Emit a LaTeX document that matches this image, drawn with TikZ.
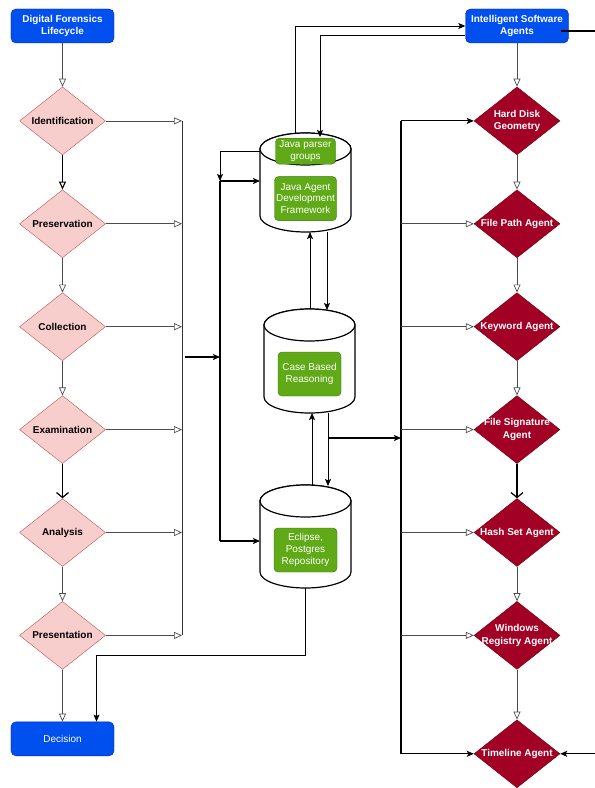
\documentclass[tikz,border=0pt]{standalone}
\usepackage{fontspec}
\setmainfont{Liberation Sans}
\usepackage{tikz}
\usetikzlibrary{shapes.geometric,arrows.meta,positioning}
\definecolor{lifeblue}{HTML}{0050EF}
\definecolor{lifeblueline}{HTML}{001DBC}
\definecolor{phasepink}{HTML}{F8CECC}
\definecolor{phaseline}{HTML}{B85450}
\definecolor{agentred}{HTML}{A20025}
\definecolor{agentline}{HTML}{6F0000}
\definecolor{kbgreen}{HTML}{60A917}
\definecolor{kbline}{HTML}{2D7600}

\begin{document}
\begin{tikzpicture}[x=1bp, y=-1bp,
  txt/.style={font=\fontsize{10}{12.5}\selectfont},
  bold/.style={font=\fontsize{10}{12.5}\selectfont\bfseries},
  hub/.style={rectangle, draw=lifeblueline, fill=lifeblue, text=white,
              rounded corners=5bp, minimum width=103bp, minimum height=34bp,
              align=center, txt},
  phase/.style={diamond, draw=phaseline, fill=phasepink,
                minimum width=86bp, minimum height=68bp, inner sep=0pt,
                label={[bold, align=center, text=black]center:#1}},
  agent/.style={diamond, draw=agentline, fill=agentred,
                minimum width=86bp, minimum height=68bp, inner sep=0pt,
                label={[bold, align=center, text=white]center:#1}},
  store/.style={rectangle, minimum width=91bp, minimum height=#1,
                inner sep=0pt, outer sep=0pt},
  storeline/.style={draw=black, line width=1.2pt, fill=white},
  kb/.style={rectangle, draw=kbline, fill=kbgreen, text=white,
             rounded corners=4bp, align=center, inner sep=1bp,
             font=\fontsize{10}{12}\selectfont},
  link/.style={draw=black!70, line width=0.7pt,
               -{Triangle[open, length=8bp, width=7bp]}},
  heavy/.style={draw=black, line width=1.2pt,
                -{Straight Barb[length=5bp, width=12bp]}},
  feed/.style={draw=black, line width=1.1pt,
               -{Stealth[length=7bp, width=6bp, inset=1.5bp]}},
  bus/.style={draw=black, line width=1.2pt}
]
  \useasboundingbox (0,0) rectangle (595,788);

  % lifecycle column
  \node[hub, bold] (dfl) at (62.5,26) {Digital Forensics\\Lifecycle};
  \node[phase=Identification, below=43.5bp of dfl] (idf) {};
  \node[phase=Preservation, below=34.5bp of idf] (prs) {};
  \node[phase=Collection, below=34.5bp of prs] (col) {};
  \node[phase=Examination, below=34.5bp of col] (exa) {};
  \node[phase=Analysis, below=34.5bp of exa] (ana) {};
  \node[phase=Presentation, below=34.5bp of ana] (pre) {};
  \node[hub, below=52bp of pre] (dec) {Decision};

  % agent column
  \node[hub, bold] (isa) at (517,26) {Intelligent Software\\Agents};
  \node[agent={Hard Disk\\Geometry}, below=43.5bp of isa] (hdg) {};
  \node[agent=File Path Agent, below=34.5bp of hdg] (fpa) {};
  \node[agent=Keyword Agent, below=34.5bp of fpa] (kwa) {};
  \node[agent={File Signature\\Agent}, below=34.5bp of kwa] (fsa) {};
  \node[agent=Hash Set Agent, below=34.5bp of fsa] (hsa) {};
  \node[agent={Windows\\Registry Agent}, below=34.5bp of hsa] (wra) {};
  \node[agent=Timeline Agent, below=50bp of wra] (tla) {};

  % stores
  \node[store=99bp] (jade) at (305.5,182.5) {};
  \node[store=104bp] (cbr) at (309.5,361) {};
  \node[store=103bp] (ecl) at (305.5,536.5) {};
  \foreach \s in {jade,cbr,ecl} {
    \draw[storeline] ([yshift=-16bp]\s.north west) -- ([yshift=16bp]\s.south west)
      arc[start angle=180, end angle=0, x radius=45.5, y radius=16]
      -- ([yshift=-16bp]\s.north east)
      arc[start angle=0, end angle=-180, x radius=45.5, y radius=16] -- cycle;
    \draw[storeline] ([yshift=-16bp]\s.north) ellipse[x radius=45.5, y radius=16];
  }
  \node[kb, minimum width=60bp, minimum height=26bp, below=5bp of jade.north] (jpg) {Java parser\\groups};
  \node[kb, minimum width=62bp, minimum height=44bp, below=12bp of jpg] (jadf) {Java Agent\\Development\\Framework};
  \node[kb, minimum width=63bp, minimum height=44bp] (cbrkb) at ([yshift=-13bp]cbr.center) {Case Based\\Reasoning};
  \node[kb, minimum width=63bp, minimum height=44bp] (eclkb) at ([yshift=-13.5bp]ecl.center) {Eclipse,\\Postgres\\Repository};

  \coordinate (lbus) at (182,357);
  \coordinate (mbus) at (220,357);
  \coordinate (mtop) at (220,181);
  \coordinate (mbot) at (220,541);
  \coordinate (cbrout) at (328,438);
  \coordinate (rbus) at (401,438);
  \coordinate (redge) at (595,0);

  % lifecycle flow
  \draw[link] (dfl) -- (idf);
  \draw[link, draw=black, line width=1.1pt] (idf) -- (prs);
  \draw[link] (prs) -- (col);
  \draw[link] (col) -- (exa);
  \draw[heavy] (exa) -- (ana);
  \draw[link] (ana) -- (pre);
  \draw[link] (pre) -- (dec);
  \foreach \p in {idf,prs,col,exa,ana,pre}
    \draw[link] (\p.east) -- (\p.east -| lbus);
  \draw[draw=black!80, line width=0.8pt] (lbus |- idf.east) -- (lbus |- pre.east);
  \draw[feed] ([xshift=3bp]lbus) -- (mbus);

  % into the stores
  \draw[bus] (mtop) -- (mbot);
  \draw[feed] (mtop) -- (mtop -| jade.west);
  \draw[feed] (mbot) -- (mbot -| ecl.west);
  \draw[feed, line width=0.7pt] (jpg.west -| jade.west) -| (mtop);
  \draw[feed, line width=0.7pt] ([xshift=-10.5bp]jade.north) |- (isa.west);
  \draw[feed, line width=0.7pt] ([yshift=-9bp]isa.west) -| ([xshift=14.5bp, yshift=-4bp]jade.north);
  \draw[feed, line width=0.7pt] ([xshift=0.5bp]cbr.north) -- ([xshift=0.5bp]cbr.north |- jade.south);
  \draw[feed, line width=0.7pt] ([xshift=21.5bp]jade.south) -- ([xshift=21.5bp, yshift=-1bp]jade.south |- cbr.north);
  \draw[feed, line width=0.7pt] ([xshift=6.5bp]ecl.north) -- ([xshift=6.5bp]ecl.north |- cbr.south);
  \draw[feed, line width=0.7pt] ([xshift=18.5bp]cbr.south) -- ([xshift=18.5bp, yshift=-1bp]cbr.south |- ecl.north);
  \draw[feed] (cbrout) -- (rbus);
  \draw[feed, line width=0.7pt] (ecl.south) -- ++(0,67) -| ([xshift=34bp]dec.north);

  % agent flow
  \draw[link] (isa) -- (hdg);
  \draw[link] (hdg) -- (fpa);
  \draw[link] (fpa) -- (kwa);
  \draw[link] (kwa) -- (fsa);
  \draw[heavy] (fsa) -- (hsa);
  \draw[link] (hsa) -- (wra);
  \draw[link] (wra) -- (tla);
  \draw[bus] (rbus |- hdg.west) -- (rbus |- tla.west);
  \draw[feed, line width=1.2pt] (rbus |- hdg.west) -- (hdg.west);
  \draw[feed, line width=1.2pt] (rbus |- tla.west) -- (tla.west);
  \foreach \a in {fpa,kwa,fsa,hsa,wra}
    \draw[link] (rbus |- \a.west) -- (\a.west);
  \draw[bus] ([xshift=-8bp, yshift=-5bp]isa.east) -- ([yshift=-5bp]isa.east -| redge);
  \draw[feed] (tla.east -| redge) -- (tla.east);
\end{tikzpicture}
\end{document}
